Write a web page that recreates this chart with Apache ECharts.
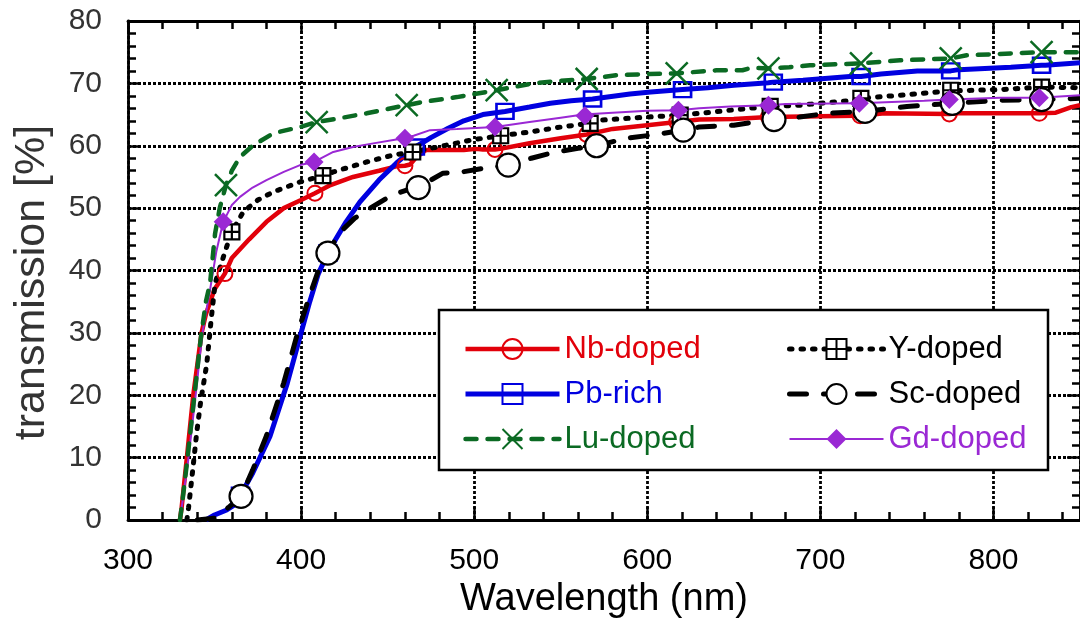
<!DOCTYPE html>
<html>
<head>
<meta charset="utf-8">
<script src="https://cdn.jsdelivr.net/npm/echarts@6/dist/echarts.min.js"></script>
<style>
  html, body { margin: 0; padding: 0; background: #fff; }
  #chart { width: 1080px; height: 626px; }
</style>
</head>
<body>
<div id="chart"></div>
<script>
// Transmission spectra of the doped samples (wavelength in nm, transmission in %)
const nbX = [330, 331, 334, 337.7, 342.5, 345, 350, 360, 370, 380, 390, 400, 417, 430, 445, 455, 463, 466, 472, 494, 501, 505, 515, 532, 550, 580, 600, 630, 650, 690, 720, 737, 780, 836, 845, 850];
const nbY = [0, 2, 10, 20, 30, 33, 37, 42, 45, 47.8, 50, 51.3, 53.7, 55, 56, 56.7, 57, 58, 59.3, 59.3, 59.5, 59.4, 59.5, 60.4, 61.2, 62.7, 63.3, 64.2, 64.3, 64.7, 64.8, 65.2, 65.2, 65.3, 66.2, 66.5];
const nbMarks = [[356, 39.5], [408, 52.4], [460, 56.8], [512, 59.4], [565, 61.8], [617, 63.8], [670, 64.6], [723, 64.8], [774.5, 65.1], [826.5, 65.2]];

const yX = [334, 335, 337, 339.7, 342, 345.5, 348, 350.3, 352, 357, 366.6, 375, 384, 399.4, 418.6, 437.9, 453, 484, 500, 532, 550, 573, 600, 630, 659, 688, 720, 746, 775, 804, 828, 850];
const yY = [0, 2, 7, 14, 19, 25, 32, 37.9, 39.5, 43.8, 49.4, 51.3, 52.6, 54.2, 55.8, 57.4, 58.5, 60.1, 61, 62.2, 63, 64.1, 64.6, 65.2, 66, 66.5, 67.3, 68.1, 68.8, 69, 69.3, 69.3];
const yMarks = [[360, 46.2], [412.6, 55.2], [464.5, 59], [515.3, 61.6], [567, 63.6], [619, 64.9], [671, 66.3], [723.4, 67.6], [775.3, 68.9], [827.8, 69.4]];

const pbX = [345, 350, 357, 362, 372, 382, 392, 399, 405, 410, 420, 426, 434, 445, 455, 475, 485, 494, 505, 532, 544, 556, 590, 602, 635, 650, 670, 690, 717, 735, 756, 780, 810, 830, 850];
const pbY = [0, 0.8, 1.6, 2.5, 7.5, 13.4, 21.9, 29, 35, 39.5, 45, 47.8, 51, 54.5, 57.2, 61.3, 62.8, 64, 65, 66.2, 66.8, 67.2, 68.3, 68.6, 69.3, 69.7, 70.1, 70.5, 71.1, 71.5, 72, 72.2, 72.6, 72.9, 73.3];
const pbMarks = [[365, 4], [415.5, 42.8], [466, 59.8], [517.8, 65.5], [568.4, 67.5], [620.4, 69], [672.8, 70.2], [723.5, 71.1], [775.3, 72], [827.8, 72.9]];

const scX = [340, 350, 358, 372, 380, 390, 398, 405, 410, 422, 431, 440, 452, 461, 475, 482, 493, 506, 533, 544, 560, 588, 605, 630, 650, 669, 688, 704, 750, 804, 850];
const scY = [0, 0.3, 2, 8, 13.5, 22, 30, 36, 40, 46, 48.4, 50, 52, 52.9, 54.5, 55.6, 55.8, 56.4, 58, 58.8, 59.6, 61.2, 61.8, 63, 63.3, 64.1, 64.6, 65.2, 66.3, 67.3, 67.6];
const scMarks = [[365.3, 3.8], [415.5, 42.8], [467.7, 53.3], [519.7, 56.9], [570.7, 60], [620.8, 62.5], [673.2, 64.2], [725.8, 65.5], [776.2, 66.8], [827.8, 67.4]];

const luX = [330, 331, 334, 338, 342, 345, 347.4, 350.3, 353, 360, 364.7, 372, 383.9, 399.4, 420, 437.9, 457, 470, 490, 534, 550, 582, 600, 640, 655, 660, 682, 694, 746, 784.5, 850];
const luY = [0, 2, 9, 19, 29, 35, 37.9, 45.9, 50, 56, 58.2, 60, 62, 63, 64.3, 65.2, 66.3, 67, 67.8, 70, 70.4, 71.3, 71.5, 72.1, 72.1, 72.5, 72.6, 72.9, 73.7, 74.5, 75];
const luMarks = [[356.6, 53.7], [409, 63.8], [461, 66.5], [513, 68.9], [565, 70.7], [617, 71.6], [670, 72.4], [723.5, 73.2], [775.3, 74], [827.8, 75]];

const gdX = [330, 331, 334.8, 339, 343, 347.4, 351, 360, 364.7, 372, 380, 390, 399.4, 418.6, 430, 440, 455, 465, 474.5, 490, 532, 550, 563, 580, 600, 630, 648, 680, 720, 760, 804, 850];
const gdY = [0, 2, 9.6, 19.8, 30, 36.9, 43, 50.5, 51.8, 53.3, 54.5, 55.8, 56.9, 59, 59.8, 60.3, 61, 61.6, 62.5, 62.7, 63.8, 64.5, 65, 65.3, 65.6, 66, 66.3, 66.7, 66.8, 67.2, 67.7, 68.1];
const gdMarks = [[355, 47.8], [407.5, 57.4], [460, 61.2], [512, 63], [564, 64.8], [618, 65.7], [670, 66.5], [722.5, 66.8], [774.5, 67.4], [826.5, 67.7]];

const xTicks = [300, 400, 500, 600, 700, 800];
const yTicks = [0, 10, 20, 30, 40, 50, 60, 70, 80];

const FONT = '"Liberation Sans", Arial, sans-serif';

// Curve points carry no symbol; the sparse marker points carry the series symbol.
function buildData(xs, ys, marks) {
  const pts = xs.map((x, i) => ({ value: [x, ys[i]], symbol: 'none' }));
  marks.forEach(m => pts.push({ value: [m[0], m[1]] }));
  pts.sort((a, b) => a.value[0] - b.value[0]);
  return pts;
}

const X_SYMBOL = 'path://M0,0L10,10M10,0L0,10';
const GRIDBOX_SYMBOL = 'path://M0,0L10,0L10,10L0,10ZM5,0L5,10M0,5L10,5';

const COLORS = { nb: '#e2000a', pb: '#0000e0', lu: '#0b6a23', gd: '#9a28d4', k: '#000000' };

const series = [
  {
    name: 'Nb-doped', data: buildData(nbX, nbY, nbMarks),
    symbol: 'circle', symbolSize: 15,
    lineStyle: { color: COLORS.nb, width: 4.5 },
    itemStyle: { color: 'rgba(255,255,255,0)', borderColor: COLORS.nb, borderWidth: 2 }
  },
  {
    name: 'Pb-rich', data: buildData(pbX, pbY, pbMarks),
    symbol: 'rect', symbolSize: [17, 15],
    lineStyle: { color: COLORS.pb, width: 5 },
    itemStyle: { color: 'rgba(255,255,255,0)', borderColor: COLORS.pb, borderWidth: 2.5 }
  },
  {
    name: 'Y-doped', data: buildData(yX, yY, yMarks),
    symbol: GRIDBOX_SYMBOL, symbolSize: 15,
    lineStyle: { color: COLORS.k, width: 5, type: [2.5, 9], cap: 'round' },
    itemStyle: { color: '#ffffff', borderColor: COLORS.k, borderWidth: 2.2 }
  },
  {
    name: 'Sc-doped', data: buildData(scX, scY, scMarks),
    symbol: 'circle', symbolSize: 23,
    lineStyle: { color: COLORS.k, width: 5, type: [17, 17], cap: 'round' },
    itemStyle: { color: '#ffffff', borderColor: COLORS.k, borderWidth: 2.2 }
  },
  {
    name: 'Gd-doped', data: buildData(gdX, gdY, gdMarks),
    symbol: 'diamond', symbolSize: [19, 19],
    lineStyle: { color: COLORS.gd, width: 2 },
    itemStyle: { color: COLORS.gd, borderColor: COLORS.gd, borderWidth: 0 }
  },
  {
    name: 'Lu-doped', data: buildData(luX, luY, luMarks),
    symbol: X_SYMBOL, symbolSize: 22,
    lineStyle: { color: COLORS.lu, width: 4.5, type: [11, 11], cap: 'round' },
    itemStyle: { color: 'rgba(255,255,255,0)', borderColor: COLORS.lu, borderWidth: 2.5 }
  }
].map(s => Object.assign({
  type: 'line', showSymbol: true, animation: false, silent: true,
  emphasis: { disabled: true }, xAxisIndex: 0, yAxisIndex: 0
}, s));

const gridLine = { show: true, lineStyle: { color: '#000', width: 2.8, type: [3, 2] } };
const frameLine = { show: true, onZero: false, lineStyle: { color: '#000', width: 2.8 } };
const majorTick = { show: true, inside: true, length: 13, lineStyle: { color: '#000', width: 2.5 } };
const minorTick = { show: true, splitNumber: 5, length: 8, lineStyle: { color: '#000', width: 2.5 } };

function legendItem(name, color, width) {
  return { name: name, textStyle: { color: color }, lineStyle: { width: width } };
}
const legendCommon = {
  orient: 'vertical', itemWidth: 94, itemHeight: 25, itemGap: 13, z: 60,
  selectedMode: false,
  textStyle: { fontFamily: FONT, fontSize: 31, lineHeight: 32 }
};

const option = {
  backgroundColor: '#ffffff',
  animation: false,
  grid: { left: 128, right: -3, top: 21, bottom: 106, containLabel: false },
  xAxis: [
    {
      type: 'value', position: 'bottom', min: xTicks[0], max: 850, interval: 100,
      axisLine: frameLine, axisTick: majorTick, minorTick: minorTick, splitLine: gridLine,
      axisLabel: { fontFamily: FONT, fontSize: 30, color: '#000', margin: 26, showMaxLabel: false,
        formatter: v => (xTicks.indexOf(v) >= 0 ? String(v) : '') },
      name: 'Wavelength (nm)', nameLocation: 'middle', nameGap: 60,
      nameTextStyle: { fontFamily: FONT, fontSize: 38, color: '#000' }
    },
    {
      type: 'value', position: 'top', min: xTicks[0], max: 850, interval: 100,
      axisLine: frameLine, axisTick: majorTick, minorTick: minorTick,
      splitLine: { show: false }, axisLabel: { show: false }
    }
  ],
  yAxis: [
    {
      type: 'value', position: 'left', min: yTicks[0], max: yTicks[yTicks.length - 1], interval: 10,
      axisLine: frameLine, axisTick: majorTick, minorTick: minorTick, splitLine: gridLine,
      axisLabel: { fontFamily: FONT, fontSize: 30, color: '#333', margin: 26 },
      name: 'transmission [%]', nameLocation: 'middle', nameGap: 74,
      nameTextStyle: { fontFamily: FONT, fontSize: 43, color: '#333', padding: [0, 24, 0, 0] }
    },
    {
      type: 'value', position: 'right', min: yTicks[0], max: yTicks[yTicks.length - 1], interval: 10,
      axisLine: frameLine, axisTick: majorTick, minorTick: minorTick,
      splitLine: { show: false }, axisLabel: { show: false }
    }
  ],
  legend: [
    Object.assign({}, legendCommon, {
      left: 458, top: 328,
      data: [legendItem('Nb-doped', COLORS.nb, 4.5), legendItem('Pb-rich', COLORS.pb, 5), legendItem('Lu-doped', COLORS.lu, 4.5)]
    }),
    Object.assign({}, legendCommon, {
      left: 782, top: 328,
      data: [legendItem('Y-doped', COLORS.k, 5), legendItem('Sc-doped', COLORS.k, 5), legendItem('Gd-doped', COLORS.gd, 2)]
    })
  ],
  graphic: [
    {
      type: 'rect', z: 50, silent: true,
      shape: { x: 439, y: 310, width: 609, height: 160 },
      style: { fill: '#ffffff', stroke: '#000', lineWidth: 2.5 }
    }
  ],
  series: series
};

const chart = echarts.init(document.getElementById('chart'), null, { renderer: 'canvas' });
chart.setOption(option);
</script>
</body>
</html>
